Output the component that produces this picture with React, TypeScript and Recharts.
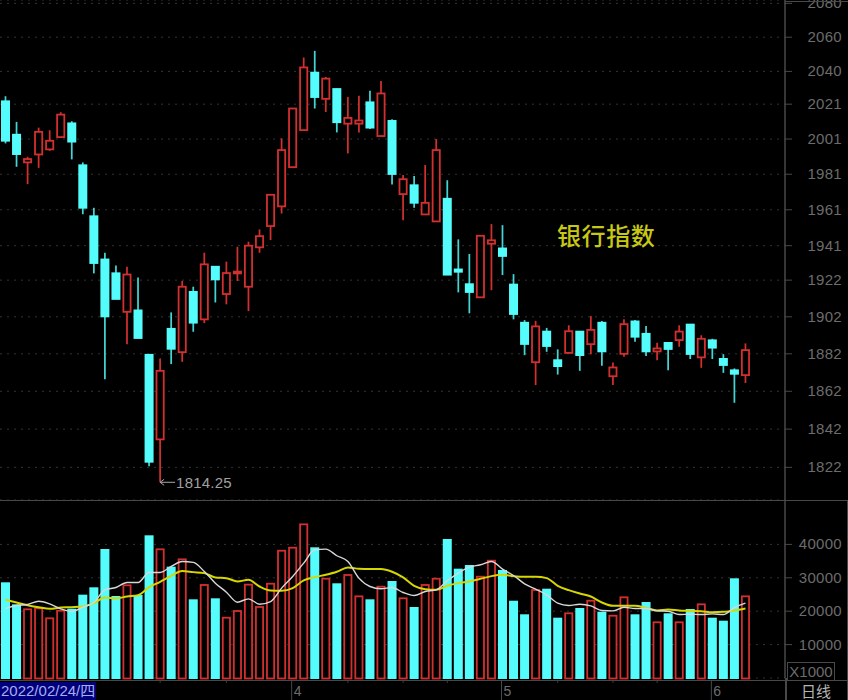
import { Bar, CartesianGrid, ComposedChart, Line, XAxis, YAxis } from 'recharts'

const dates = [
  '02/24', '02/25', '02/28',
  '03/01', '03/02', '03/03', '03/04', '03/07', '03/08', '03/09', '03/10', '03/11', '03/14', '03/15', '03/16', '03/17', '03/18',
  '03/21', '03/22', '03/23', '03/24', '03/25', '03/28', '03/29', '03/30', '03/31',
  '04/01', '04/06', '04/07', '04/08', '04/11', '04/12', '04/13', '04/14', '04/15', '04/18', '04/19', '04/20', '04/21', '04/22',
  '04/25', '04/26', '04/27', '04/28', '04/29',
  '05/05', '05/06', '05/09', '05/10', '05/11', '05/12', '05/13', '05/16', '05/17', '05/18', '05/19', '05/20',
  '05/23', '05/24', '05/25', '05/26', '05/27', '05/30', '05/31',
  '06/01', '06/02', '06/06', '06/07',
]
const opens = [
  2022.9, 2003.7, 1987.7, 1992.2, 1995.1, 2002.1, 2010.2, 1986.3, 1957.6, 1933.6, 1926, 1904.7, 1905.7, 1881.7, 1836.6, 1895.7, 1882.9,
  1915.8, 1900.6, 1929.6, 1914.4, 1925.9, 1918.4, 1940.1, 1951.9, 1962.9, 1985, 2006.1, 2039.5, 2024.1, 2030, 2009.8, 2009.8, 2022.3,
  2002.7, 2011.6, 1969.8, 1975, 1958.4, 1954.5, 1967.4, 1928.1, 1920, 1912.6, 1942.1, 1939.7, 1919.8, 1899, 1877.5, 1894.2, 1878.8,
  1882.5, 1894.2, 1887.2, 1899, 1870, 1882, 1899.7, 1893, 1883.3, 1888.1, 1889.4, 1898, 1880.1, 1889.5, 1879.5, 1873.4, 1870.6,
]
const closes = [
  1999.8, 1992.2, 1989.6, 2005.1, 2000, 2015, 1999.3, 1961.9, 1931.2, 1902, 1911.5, 1925.1, 1890.3, 1824.7, 1872.9, 1884.5, 1918.4,
  1898.6, 1930.7, 1922.2, 1925.9, 1926.7, 1941, 1946.3, 1969.4, 1994.7, 2018.5, 2042.3, 2024.9, 2035.8, 2010.4, 2013.1, 2011.6, 2007.3,
  2027.2, 1980.9, 1978.2, 1964.7, 1964.9, 1994.7, 1924.8, 1926.4, 1915.3, 1946.5, 1944, 1935.1, 1903.3, 1887.1, 1896.8, 1886, 1875.2,
  1894.2, 1881.1, 1894.9, 1883.1, 1874.7, 1898, 1891, 1883.1, 1884.9, 1884.4, 1894, 1881.7, 1890.1, 1885.1, 1875.8, 1871.1, 1884,
]
const highs = [
  2025.6, 2010.8, 1990.9, 2007.5, 2006, 2016.4, 2011.2, 1987.7, 1962.1, 1937.1, 1930.1, 1929.4, 1923.4, 1881.7, 1879.5, 1904.4, 1921.6,
  1918.4, 1937.1, 1929.6, 1932.2, 1940.4, 1943.2, 1950, 1969.4, 2001.4, 2018.5, 2048.1, 2052, 2036.8, 2030, 2025.2, 2025.8, 2028.7,
  2034.4, 2012.3, 1980.5, 1980, 1986.2, 2001, 1977.6, 1944.5, 1936.4, 1946.5, 1953, 1952.4, 1925.3, 1900.2, 1899.8, 1896, 1884.4,
  1897.4, 1894.2, 1902.4, 1899.7, 1877.4, 1900.7, 1900.2, 1897, 1887.9, 1888.1, 1897.4, 1898, 1892, 1890.1, 1881.8, 1874.2, 1887.6,
]
const lows = [
  1998.5, 1985.2, 1975.4, 1984.6, 1994.3, 2002.1, 1989.4, 1958.5, 1925.7, 1868.4, 1911.5, 1887.2, 1890.3, 1822.6, 1814.25, 1876.5, 1877.7,
  1893.9, 1898.6, 1909.8, 1908.8, 1921.5, 1905.1, 1937.1, 1944.1, 1958.9, 1985, 2006.1, 2018.5, 2016.5, 2004.8, 1992.8, 2004.8, 2006.7,
  2002.7, 1975.2, 1955.1, 1962.1, 1958.4, 1954.5, 1924.8, 1915.3, 1903.9, 1912.6, 1916.5, 1924.8, 1900.6, 1881.3, 1865.3, 1883.1, 1870.9,
  1882.5, 1872.9, 1881.7, 1875.6, 1865.3, 1880.4, 1888.5, 1880.9, 1878.6, 1873.2, 1885.8, 1879.2, 1874.5, 1879.2, 1871.8, 1855.9, 1866.4,
]
const volumes = [
  28650, 22060, 20560, 20860, 17870, 20150, 20750, 24950, 27150, 38620, 24550, 27750, 24850, 42720, 38530, 33330, 35530,
  23560, 27850, 23860, 18060, 20060, 27950, 21260, 28230, 38110, 39010, 46010, 39130, 29730, 28350, 30840, 24450, 23560,
  27340, 29040, 23860, 21260, 27850, 29730, 41620, 32730, 33830, 30330, 35120, 32340, 23140, 19070, 26350, 26740, 18060,
  19370, 20960, 23140, 19850, 18650, 24160, 19070, 22750, 16680, 19370, 16680, 20660, 22060, 18060, 17160, 29850, 24450,
]
const maShort = [
  20800, 21700, 22000, 23000, 22200, 20700, 19900, 21200, 22600, 26400, 27100, 28600, 28600, 31600, 31600, 33400, 34900,
  34600, 31900, 28400, 25700, 22700, 23700, 22100, 22900, 26900, 30400, 34400, 38400, 38600, 36600, 34900, 29900, 27400,
  26700, 27100, 25600, 24700, 25900, 26400, 29100, 31400, 33200, 33900, 34900, 32600, 30700, 28200, 26600, 24900, 22400,
  21700, 22100, 21600, 20200, 20100, 21200, 20800, 20800, 20100, 20000, 19000, 19100, 19000, 19200, 19000, 21100, 22400,
]
const maLong = [
  23400, 22600, 21800, 21200, 20700, 21100, 21200, 21400, 22400, 24100, 23800, 24400, 24800, 27200, 28800, 30600, 32000,
  31700, 31400, 30100, 29900, 28900, 29400, 27400, 26200, 26100, 26900, 29200, 30200, 30900, 31800, 33100, 32700, 32600,
  32600, 31800, 30100, 27600, 26600, 26400, 27600, 28400, 28900, 29700, 30500, 30900, 30500, 30300, 30300, 29900, 27600,
  26300, 25300, 24400, 22600, 21600, 21600, 21600, 21000, 20200, 20500, 20200, 20100, 20000, 19700, 19800, 20200, 20800,
]
const priceTicks = [2080, 2060, 2040, 2021, 2001, 1981, 1961, 1941, 1922, 1902, 1882, 1862, 1842, 1822]
const volumeTicks = [10000, 20000, 30000, 40000]
const monthTicks = ['04/01', '05/05', '06/01']
const minorTicks = ['03/16', '03/24', '04/12', '04/19', '04/25', '05/12', '05/19', '05/25']

const UP = '#d2302f'
const DOWN = '#54fcfc'
const DOWN_WICK = '#44d4d4'
const LINE = '#484848'
const AXIS_TEXT = '#6c6c6c'
const FONT = '"Liberation Sans", Arial, sans-serif'
const CJK = '"Noto Sans CJK SC", sans-serif'

const lowest = Math.min(...lows)

const rows = dates.map((date, i) => ({
  date,
  open: opens[i],
  close: closes[i],
  high: highs[i],
  low: lows[i],
  range: [lows[i], highs[i]],
  volume: volumes[i],
  maShort: maShort[i],
  maLong: maLong[i],
}))

function Candle(props: any) {
  const { x, y, width, height, payload } = props
  const { open, close, high, low } = payload
  const cx = x + width / 2
  // axis is logarithmic, so place the body inside the high-low span on a log ratio
  const at = (v: number) => y + (height * Math.log(high / v)) / Math.log(high / low)
  const top = at(Math.max(open, close))
  const bottom = at(Math.min(open, close))
  const up = close >= open
  const tip = y + height
  return (
    <g>
      <line x1={cx} x2={cx} y1={y} y2={tip} stroke={up ? UP : DOWN_WICK} strokeWidth={1.75} />
      {up ? (
        <rect x={x + 0.9} y={top} width={width - 1.8} height={Math.max(bottom - top, 1.8)} fill="#000" stroke={UP} strokeWidth={1.8} />
      ) : (
        <rect x={x} y={top - 0.5} width={width} height={Math.max(bottom - top + 1, 2)} fill={DOWN} />
      )}
      {low === lowest && (
        <g>
          <path d={`M${cx + 15} ${tip}H${cx} M${cx + 4} ${tip - 3}L${cx} ${tip}L${cx + 4} ${tip + 3}`} fill="none" stroke="#a8a8a8" />
          <text x={cx + 16} y={tip + 6} fontSize={15} letterSpacing={0.2} fontFamily={FONT} fill="#a0a0a0">
            {low}
          </text>
        </g>
      )}
    </g>
  )
}

function VolumeBar(props: any) {
  const { x, y, width, height, payload } = props
  return payload.close >= payload.open ? (
    <rect x={x + 0.9} y={y} width={width - 1.8} height={height + 0.5} fill="#000" stroke={UP} strokeWidth={1.8} />
  ) : (
    <rect x={x} y={y} width={width} height={height + 1} fill={DOWN} />
  )
}

function ValueTick(props: any) {
  const { x, y, payload } = props
  return (
    <text x={x} y={y + 5} textAnchor="end" fontSize={15} letterSpacing={0.3} fontFamily={FONT} fill={AXIS_TEXT}>
      {payload.value}
    </text>
  )
}

function DateTick(props: any) {
  const { x, y, payload } = props
  if (minorTicks.includes(payload.value)) {
    return <line x1={x} x2={x} y1={y + 2} y2={y + 5} stroke="#3a3a3a" />
  }
  return (
    <g>
      <line x1={x - 1} x2={x - 1} y1={y + 2} y2={y + 22} stroke={LINE} />
      <text x={x + 1} y={y + 18} fontSize={14} fontFamily={FONT} fill={AXIS_TEXT}>
        {Number(payload.value.slice(0, 2))}
      </text>
    </g>
  )
}

function Rule({ style }: { style: React.CSSProperties }) {
  return <div style={{ position: 'absolute', background: LINE, ...style }} />
}

export default function App() {
  return (
    <div style={{ position: 'absolute', left: 0, top: 0, width: 848, height: 700, background: '#000', overflow: 'hidden' }}>
      <div style={{ position: 'absolute', left: 0, top: 0 }}>
        <ComposedChart width={848} height={500} data={rows} margin={{ top: 0, right: 0, bottom: 0, left: 0 }}>
          <CartesianGrid vertical={false} stroke="#333333" strokeDasharray="2 5" />
          <XAxis dataKey="date" hide padding={{ left: 0, right: 34 }} />
          <YAxis
            orientation="right"
            width={63}
            scale="log"
            domain={[1805.1, 2082]}
            ticks={priceTicks}
            interval={0}
            axisLine={{ stroke: LINE, strokeWidth: 1.5 }}
            tickLine={{ stroke: LINE }}
            tickSize={7}
            tickMargin={50}
            tick={<ValueTick />}
          />
          <Bar dataKey="range" barSize={9} shape={Candle} isAnimationActive={false} />
        </ComposedChart>
      </div>

      <div style={{ position: 'absolute', left: 0, top: 500 }}>
        <ComposedChart width={848} height={200} data={rows} margin={{ top: 0, right: 0, bottom: 0, left: 0 }}>
          <CartesianGrid vertical={false} stroke="#333333" strokeDasharray="2 5" />
          <XAxis
            dataKey="date"
            height={22}
            padding={{ left: 0, right: 34 }}
            ticks={[...minorTicks, ...monthTicks]}
            interval={0}
            axisLine={false}
            tickLine={false}
            tickSize={0}
            tickMargin={0}
            tick={<DateTick />}
          />
          <YAxis
            orientation="right"
            width={63}
            domain={[0, 53293]}
            ticks={volumeTicks}
            interval={0}
            axisLine={{ stroke: LINE, strokeWidth: 1.5 }}
            tickLine={{ stroke: LINE }}
            tickSize={7}
            tickMargin={50}
            tick={<ValueTick />}
          />
          <Bar dataKey="volume" barSize={9} shape={VolumeBar} isAnimationActive={false} />
          <Line dataKey="maLong" type="monotone" stroke="#d6d600" strokeWidth={2} dot={false} isAnimationActive={false} />
          <Line dataKey="maShort" type="monotone" stroke="#d8d8d8" strokeWidth={1.4} dot={false} isAnimationActive={false} />
        </ComposedChart>
      </div>

      <Rule style={{ left: 785, top: 1, width: 63, height: 1 }} />
      <Rule style={{ left: 0, top: 500, width: 848, height: 1 }} />
      <Rule style={{ left: 0, top: 680, width: 848, height: 1 }} />
      <Rule style={{ left: 785, top: 678, width: 1.5, height: 22 }} />
      <Rule style={{ left: 847, top: 500, width: 1, height: 200 }} />

      <div style={{ position: 'absolute', left: 557, top: 217, fontFamily: CJK, fontSize: 24, letterSpacing: 0.6, lineHeight: '36px', fontWeight: 500, color: '#c8c814', whiteSpace: 'nowrap' }}>
        银行指数
      </div>
      <div
        style={{
          position: 'absolute', left: 787, top: 662, width: 46, height: 17, border: `1px solid ${LINE}`,
          fontFamily: FONT, fontSize: 15, lineHeight: '18px', color: AXIS_TEXT, textAlign: 'center',
        }}
      >
        X1000
      </div>
      <div style={{ position: 'absolute', left: 0, top: 682, width: 96, height: 18, background: '#00007c', color: '#a6aef0', fontFamily: `${FONT.split(',')[0]}, ${CJK}`, fontSize: 15, lineHeight: '18px', whiteSpace: 'nowrap', paddingLeft: 1, boxSizing: 'border-box' }}>
        2022/02/24/四
      </div>
      <div style={{ position: 'absolute', left: 801, top: 681, fontFamily: CJK, fontSize: 15, lineHeight: '19px', color: '#b4b4b4', whiteSpace: 'nowrap' }}>
        日线
      </div>
    </div>
  )
}
